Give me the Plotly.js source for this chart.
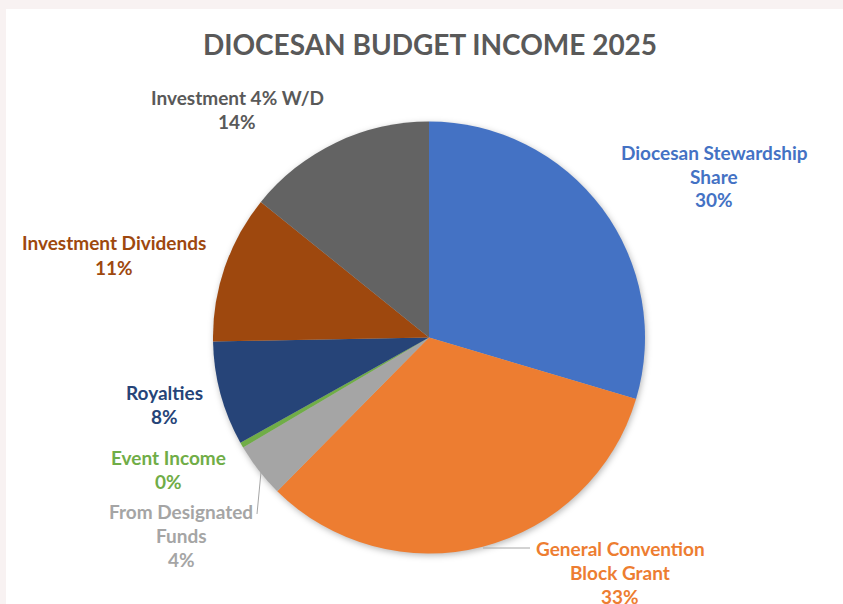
<!DOCTYPE html>
<html>
<head>
<meta charset="utf-8">
<script src="https://cdn.plot.ly/plotly-3.0.1.min.js"></script>
<style>
  html, body { margin: 0; padding: 0; background: #f8f2f2; width: 843px; height: 604px; overflow: hidden; }
  #chart { position: absolute; left: 6px; top: 9px; width: 837px; height: 595px; background: #ffffff; }
  #chart .pielayer .trace { filter: drop-shadow(1px 2px 3px rgba(0,0,0,0.28)); }
</style>
</head>
<body>
<div id="chart"></div>
<script>
// ---- data ----
const categories = [
  "Diocesan Stewardship Share",
  "General Convention Block Grant",
  "From Designated Funds",
  "Event Income",
  "Royalties",
  "Investment Dividends",
  "Investment 4% W/D"
];
const values = [29.6, 32.8, 4.1, 0.4, 7.8, 11.1, 14.2];
const labelLines = [
  ["Diocesan Stewardship", "Share"],
  ["General Convention", "Block Grant"],
  ["From Designated", "Funds"],
  ["Event Income"],
  ["Royalties"],
  ["Investment Dividends"],
  ["Investment 4% W/D"]
];
const chartTitle = "DIOCESAN BUDGET INCOME 2025";

// ---- styles ----
const sliceColors = ["#4472c4", "#ed7d31", "#a5a5a5", "#70ad47", "#264478", "#9e480e", "#636363"];
const textColors  = ["#4472c4", "#ed7d31", "#a5a5a5", "#70ad47", "#264478", "#9e480e", "#595959"];

// ---- layout helpers (image pixel coords -> paper coords) ----
const W = 837, H = 595, OX = 6, OY = 9;
const px = x => (x - OX) / W;
const py = y => 1 - (y - OY) / H;

// pie centre/radius in image pixels
const cx = 429, cy = 337.5, r = 216;

// label anchor (centre x, first-line y) in image pixels, per slice
const labelPos = [
  [714, 152],
  [620, 548],
  [181, 511],
  [168, 457],
  [164, 392],
  [114, 243],
  [237, 97]
];
const lineGap = 24;

const total = values.reduce((a, b) => a + b, 0);
const annotations = [];
categories.forEach((c, i) => {
  const lines = labelLines[i].concat([Math.round(values[i] / total * 100) + "%"]);
  lines.forEach((t, k) => {
    annotations.push({
      text: t,
      x: px(labelPos[i][0]),
      y: py(labelPos[i][1] + k * lineGap),
      xref: "paper", yref: "paper",
      xanchor: "center", yanchor: "middle",
      showarrow: false,
      borderpad: 0,
      font: { family: "Lato, 'Open Sans', sans-serif", size: 19, color: textColors[i], weight: "bold" }
    });
  });
});

const shapes = [
  { type: "line", xref: "paper", yref: "paper",
    x0: px(483), y0: py(548), x1: px(530), y1: py(548),
    line: { color: "#a6a6a6", width: 1 } },
  { type: "line", xref: "paper", yref: "paper",
    x0: px(261), y0: py(472), x1: px(257), y1: py(514),
    line: { color: "#a6a6a6", width: 1 } }
];

const trace = {
  type: "pie",
  labels: categories,
  values: values,
  sort: false,
  direction: "clockwise",
  rotation: 0,
  textinfo: "none",
  hoverinfo: "label+percent",
  marker: { colors: sliceColors, line: { width: 0 } },
  domain: {
    x: [px(cx - r), px(cx + r)],
    y: [py(cy + r), py(cy - r)]
  },
  showlegend: false
};

const layout = {
  width: W, height: H,
  margin: { l: 0, r: 0, t: 0, b: 0 },
  paper_bgcolor: "#ffffff",
  title: {
    text: chartTitle,
    x: px(430), y: py(45),
    xanchor: "center", yanchor: "middle",
    font: { family: "Lato, 'Open Sans', sans-serif", size: 28, color: "#595959", weight: "bold" }
  },
  annotations: annotations,
  shapes: shapes,
  showlegend: false
};

Plotly.newPlot("chart", [trace], layout, { displayModeBar: false, staticPlot: true });
</script>
</body>
</html>
